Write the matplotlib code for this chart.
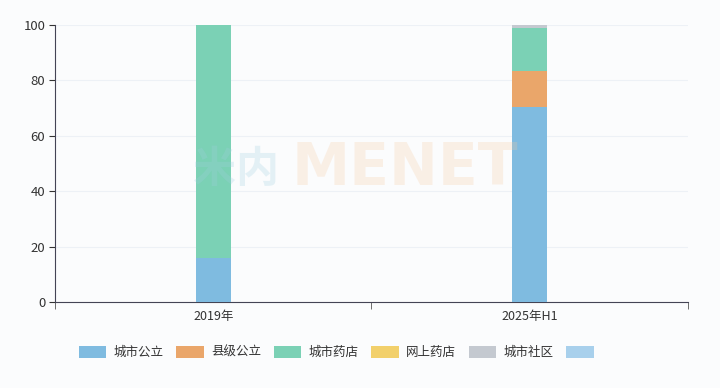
import matplotlib
matplotlib.use("Agg")
import matplotlib.pyplot as plt
from matplotlib.patches import Patch

plt.rcParams['font.family'] = ['Noto Sans CJK SC', 'DejaVu Sans']

# 数据
categories = ["2019年", "2025年H1"]
series_names = ["城市公立", "县级公立", "城市药店", "网上药店", "城市社区"]
city_public = [16.0, 70.5]
county_public = [0.0, 12.8]
city_pharmacy = [84.0, 15.5]
online_pharmacy = [0.0, 0.2]
city_community = [0.0, 1.0]
colors = ["#7fbbe0", "#eaa66a", "#7bd1b5", "#f2d06b", "#c4c9d0"]

fig = plt.figure(figsize=(7.2, 3.88), dpi=100)
fig.patch.set_facecolor("#fbfcfd")
ax = fig.add_axes([0.0764, 0.2216, 0.879, 0.714])
ax.set_facecolor("#fbfcfd")

x = list(range(len(categories)))
bottom = [0.0, 0.0]
for vals, name, c in zip([city_public, county_public, city_pharmacy, online_pharmacy, city_community],
                         series_names, colors):
    ax.bar(x, vals, width=0.11, bottom=bottom, color=c, label=name, zorder=3)
    bottom = [b + v for b, v in zip(bottom, vals)]

ax.set_xlim(-0.5, 1.5)
ax.set_ylim(0, 100)
ax.set_yticks([0, 20, 40, 60, 80, 100])
ax.grid(axis="y", color="#edf1f6", linewidth=0.8, zorder=0)

ax.set_xticks(x)
ax.set_xticklabels(categories)
ax.set_xticks([-0.5, 0.5, 1.5], minor=True)
ax.tick_params(axis="x", which="major", length=0, pad=6, labelsize=9, colors="#333333")
ax.tick_params(axis="x", which="minor", length=5, color="#555555")
ax.tick_params(axis="y", length=4, labelsize=9.5, colors="#333333", pad=3)
for s in ["top", "right"]:
    ax.spines[s].set_visible(False)
ax.spines["left"].set_color("#444455")
ax.spines["bottom"].set_color("#444455")

# 水印
fig.text(0.268, 0.565, "米内", fontsize=31, fontweight="bold", color="#9fcfe0", alpha=0.25,
         ha="left", va="center")
fig.text(0.405, 0.565, "MENET", fontsize=42, fontweight="bold", color="#f6c9a0", alpha=0.25,
         ha="left", va="center", family="DejaVu Sans")

handles = [Patch(facecolor=c, edgecolor="none") for c in colors] + [Patch(facecolor="#a8d0ec", edgecolor="none")]
labels = series_names + [""]
fig.legend(handles, labels, loc="center", bbox_to_anchor=(0.472, 0.092), ncol=6, frameon=False,
           fontsize=9, handlelength=2.2, handleheight=1.1, columnspacing=1.0, handletextpad=0.6,
           labelcolor="#333333")

plt.savefig("out.png", dpi=100, facecolor=fig.get_facecolor())
